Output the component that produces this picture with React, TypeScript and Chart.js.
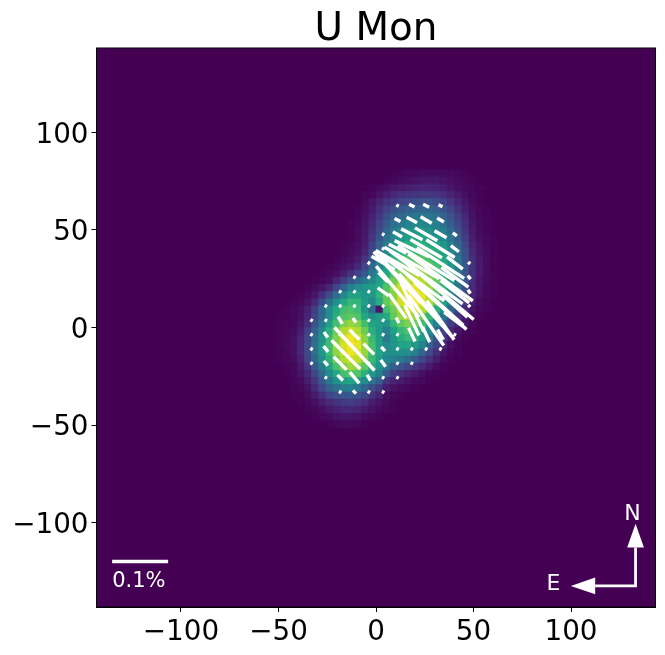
import React, { useEffect, useRef } from "react";
import { Chart, registerables } from "chart.js";

Chart.register(...registerables);

const titleText = "U Mon";
const tickValues = [-100, -50, 0, 50, 100];
const axisLimit = 143.325;
const cellSize = 3.675;
const firstRow = 17;
const viridisStops = ["#440154", "#482475", "#414487", "#355f8d", "#2a788e", "#21918c", "#22a884", "#44bf70", "#7ad151", "#bddf26", "#fde725"];

const imageRowStart = [41,40,38,37,37,36,36,35,35,35,34,34,33,32,31,30,29,28,27,26,25,25,25,25,25,25,25,26,26,27,27,27,28,29,30,32];
const imageRows = [
  [1,1,2,2,3,3,3,3,2,2,1],
  [1,2,3,4,5,6,6,6,5,4,3,2,1],
  [1,2,4,6,7,8,9,10,10,9,8,6,4,3,2,1],
  [1,2,5,8,11,13,14,15,16,16,15,13,10,7,4,2,1],
  [2,5,9,14,17,20,22,24,25,25,23,20,15,10,6,3,1],
  [1,3,7,13,19,24,27,30,32,33,32,30,26,20,14,8,4,2,1],
  [1,4,9,16,24,30,34,37,39,40,39,36,31,25,18,11,5,2,1],
  [1,2,5,11,19,28,36,41,44,46,46,45,42,37,29,21,13,6,3,1],
  [1,3,6,13,22,33,41,47,50,52,52,51,47,42,34,25,15,7,3,1],
  [1,3,7,15,26,37,46,52,56,58,58,56,52,47,39,29,18,8,4,2,1],
  [1,2,4,8,18,31,42,51,57,62,64,63,61,57,52,43,33,21,10,5,2,1],
  [1,3,5,10,22,36,47,56,63,67,69,68,66,62,56,47,37,24,12,6,3,1],
  [1,2,4,7,15,27,41,52,62,68,72,74,73,71,66,60,51,39,26,13,7,3,1],
  [1,2,4,6,11,20,33,45,56,67,74,78,79,78,76,70,63,53,41,27,14,7,3,1],
  [1,2,4,8,14,20,28,40,49,60,72,80,84,85,84,80,73,65,54,42,27,14,7,3,1],
  [1,2,4,10,18,26,33,41,47,56,66,78,86,90,91,89,84,75,66,55,42,27,13,6,3,1],
  [1,3,6,11,21,32,43,49,52,55,61,72,84,92,96,96,92,85,76,65,53,39,25,12,6,2,1],
  [1,3,6,13,23,35,46,56,57,53,52,65,77,82,92,98,100,96,89,74,61,48,35,21,10,5,2,1],
  [1,2,5,11,23,36,49,60,66,65,55,47,62,76,84,93,99,100,96,88,75,55,42,29,17,8,3,1],
  [1,2,4,9,18,33,48,60,69,71,68,52,36,6,70,78,87,94,95,90,80,62,47,34,22,12,5,2,1],
  [1,1,2,4,10,20,34,49,62,72,75,72,60,50,56,61,76,84,88,85,78,66,52,38,26,15,8,3,1],
  [1,2,2,6,13,25,40,55,70,80,84,81,70,58,55,52,66,75,80,77,69,57,43,29,18,10,5,2],
  [1,2,3,8,18,31,47,63,77,88,92,88,77,63,54,44,56,66,72,69,62,48,34,22,12,6,2,1],
  [1,2,4,10,21,35,51,67,81,93,98,94,82,67,55,40,52,62,66,63,54,40,27,16,8,3,1],
  [1,3,4,11,22,37,53,69,84,94,100,96,84,70,57,48,52,58,59,54,45,32,20,10,4,1],
  [1,2,4,11,22,37,53,68,83,93,97,94,84,70,58,50,50,50,49,43,33,23,13,6,2,1],
  [1,2,3,9,20,34,49,64,79,88,92,90,81,67,56,47,43,40,35,28,21,14,8,3,1],
  [1,2,7,15,28,42,57,71,80,85,83,74,62,51,40,30,26,21,16,11,7,3,1],
  [1,2,5,11,21,34,48,60,70,74,72,63,52,43,29,18,14,10,7,4,2,1],
  [1,3,8,16,28,40,50,56,59,56,48,38,30,15,10,7,5,3,2,1],
  [1,2,5,12,22,31,37,42,43,40,32,24,17,8,5,3,2,1],
  [1,1,3,7,13,20,24,27,28,26,21,15,10,4,2,1],
  [1,2,4,8,12,15,17,18,16,13,8,5,3,1],
  [1,2,4,7,9,11,11,10,7,5,3,2,1],
  [1,2,3,5,6,6,5,3,2,1],
  [1,2,3,3,2,1],
];

const vectorRows = [8, 7, 6, 5, 4, 3, 2, 1, 0, -1, -2, -3, -4, -5];
const vectorStarts = [1, 1, 0, 0, -1, -2, -3, -4, -5, -5, -5, -5, -4, -3];
const vectorPol = [
  [.005, .011, .012, .008],
  [.012, .021, .023, .014],
  [.005, .019, .043, .046, .025, .009],
  [.005, .035, .068, .065, .06, .018],
  [.005, .048, .09, .113, .119, .101, .036, .005],
  [.005, .005, .024, .125, .143, .161, .143, .06, .008],
  [.005, .005, .005, .024, .119, .167, .179, .155, .065, .008],
  [.005, .005, .005, .005, .005, .054, .1, .15, .125, .06, .005],
  [.005, .005, .015, .010, .005, .005, .011, .06, .11, .085, .048],
  [.005, .012, .005, .025, .005, .005, .005, .027, .03, .021, .005],
  [.005, .013, .044, .105, .027, .010, .005, .005, .005, .005],
  [.005, .011, .033, .029, .005, .015, .005, .005],
  [.005, .014, .026, .012, .005, .005],
  [.005, .008, .005, .005],
];
const vectorAngle = [
  [27, 27, 27, 27],
  [27, 28, 30, 30],
  [30, 30, 27, 30, 30, 35],
  [30, 27, 25, 30, 32, 38],
  [30, 30, 30, 30, 32, 33, 38, 40],
  [30, 30, 45, 47, 36, 36, 36, 36, 50],
  [30, 30, 30, 35, 50, 48, 42, 40, 38, 55],
  [30, 30, 30, 30, 30, 55, 65, 50, 42, 42, 50],
  [30, 30, 60, 55, 30, 30, 65, 65, 55, 55, 37],
  [30, 55, 30, 45, 30, 30, 30, 65, 65, 60, 30],
  [30, 50, 45, 47, 45, 47, 30, 30, 30, 30],
  [30, 50, 45, 45, 45, 55, 30, 30],
  [30, 45, 50, 60, 30, 30],
  [30, 45, 30, 30],
];

const scaleBarPercent = 0.1;
const scaleBarLength = 28.7;
const scaleBarLabel = "0.1%";
const northLabel = "N";
const eastLabel = "E";

function hexRgb(h: string) {
  return [1, 3, 5].map((k) => parseInt(h.slice(k, k + 2), 16));
}
function viridis(p: number) {
  const t = Math.max(0, Math.min(1, p / 100)) * (viridisStops.length - 1);
  const a = Math.floor(t);
  const b = Math.min(a + 1, viridisStops.length - 1);
  const A = hexRgb(viridisStops[a]);
  const B = hexRgb(viridisStops[b]);
  const c = A.map((v, k) => Math.round(v + (B[k] - v) * (t - a)));
  return `rgb(${c[0]},${c[1]},${c[2]})`;
}

function cellPoints() {
  const pts: { x: number; y: number; v: number }[] = [];
  imageRows.forEach((row, r) => {
    row.forEach((v, c) => {
      if (v <= 0) return;
      pts.push({
        x: (imageRowStart[r] + c - 39 + 0.5) * cellSize,
        y: (39 - firstRow - r - 0.5) * cellSize,
        v,
      });
    });
  });
  return pts;
}

function vectorSegments() {
  const pts: { x: number; y: number }[] = [];
  vectorRows.forEach((j, rowIdx) => {
    vectorPol[rowIdx].forEach((pol, k) => {
      const i = vectorStarts[rowIdx] + k;
      const cx = cellSize + 2 * cellSize * i;
      const cy = cellSize + 2 * cellSize * j;
      const half = ((pol / scaleBarPercent) * scaleBarLength) / 2;
      const a = (vectorAngle[rowIdx][k] * Math.PI) / 180;
      pts.push({ x: cx - half * Math.cos(a), y: cy + half * Math.sin(a) });
      pts.push({ x: cx + half * Math.cos(a), y: cy - half * Math.sin(a) });
      pts.push({ x: NaN, y: NaN });
    });
  });
  return pts;
}

const framePlugin = {
  id: "frameAndMarks",
  beforeDatasetsDraw(chart: any) {
    const { ctx, chartArea: a } = chart;
    ctx.save();
    ctx.fillStyle = viridisStops[0];
    ctx.fillRect(a.left, a.top, a.right - a.left, a.bottom - a.top);
    ctx.restore();
  },
  afterDatasetsDraw(chart: any) {
    const { ctx, chartArea: a, scales } = chart;
    const X = (v: number) => scales.x.getPixelForValue(v);
    const Y = (v: number) => scales.y.getPixelForValue(v);
    ctx.save();
    ctx.strokeStyle = "#ffffff";
    ctx.fillStyle = "#ffffff";

    // scale bar
    ctx.lineWidth = 3.3;
    ctx.beginPath();
    ctx.moveTo(X(-135.3), Y(-120));
    ctx.lineTo(X(-135.3 + scaleBarLength), Y(-120));
    ctx.stroke();
    ctx.font = '21px "DejaVu Sans"';
    ctx.textAlign = "left";
    ctx.textBaseline = "alphabetic";
    ctx.fillText(scaleBarLabel, X(-135.3), Y(-133.3));

    // compass
    ctx.lineWidth = 2.8;
    ctx.beginPath();
    ctx.moveTo(X(133.1), Y(-112.8));
    ctx.lineTo(X(133.1), Y(-132.5));
    ctx.lineTo(X(112.4), Y(-132.5));
    ctx.stroke();
    ctx.beginPath();
    ctx.moveTo(X(133.1), Y(-100.6));
    ctx.lineTo(X(128.8), Y(-112.8));
    ctx.lineTo(X(137.4), Y(-112.8));
    ctx.closePath();
    ctx.fill();
    ctx.beginPath();
    ctx.moveTo(X(99.9), Y(-132.5));
    ctx.lineTo(X(112.4), Y(-128.2));
    ctx.lineTo(X(112.4), Y(-136.8));
    ctx.closePath();
    ctx.fill();
    ctx.font = '22px "DejaVu Sans"';
    ctx.textAlign = "center";
    ctx.fillText(northLabel, X(131.5), Y(-98.5));
    ctx.fillText(eastLabel, X(91), Y(-134.5));
    ctx.restore();

    // frame
    ctx.save();
    ctx.strokeStyle = "#000000";
    ctx.lineWidth = 1;
    ctx.strokeRect(a.left, a.top, a.right - a.left, a.bottom - a.top);
    ctx.fillStyle = "#000000";
    ctx.font = '38.9px "DejaVu Sans"';
    ctx.textAlign = "center";
    ctx.textBaseline = "alphabetic";
    ctx.fillText(titleText, (a.left + a.right) / 2, 40);
    ctx.restore();
  },
};

function axisOptions(kind: "x" | "y") {
  return {
    type: "linear",
    min: -axisLimit,
    max: axisLimit,
    afterBuildTicks(scale: any) {
      scale.ticks = tickValues.map((value) => ({ value }));
    },
    afterFit(scale: any) {
      if (kind === "x") scale.height = 48;
      else scale.width = 96.5;
    },
    ticks: {
      autoSkip: false,
      maxRotation: 0,
      color: "#000000",
      padding: kind === "y" ? 3 : 4,
      labelOffset: kind === "y" ? 3 : 0,
      font: { family: '"DejaVu Sans"', size: 27.8 },
      callback: (v: any) => String(v).replace("-", "\u2212"),
    },
    grid: { drawOnChartArea: false, drawTicks: true, tickLength: 5, tickColor: "#000000", tickWidth: 1 },
    border: { display: true, color: "#000000", width: 1 },
  };
}

export default function App() {
  const ref = useRef<HTMLCanvasElement>(null);
  useEffect(() => {
    const cells = cellPoints();
    const chart = new Chart(ref.current as HTMLCanvasElement, {
      type: "scatter",
      data: {
        datasets: [
          {
            label: "polarization",
            data: vectorSegments() as any,
            showLine: true,
            spanGaps: false,
            borderColor: "#ffffff",
            borderWidth: 3.4,
            borderCapStyle: "butt",
            pointRadius: 0,
            order: 0,
          },
          {
            label: "intensity",
            data: cells as any,
            showLine: false,
            pointStyle: "rect",
            pointRadius: 5.07,
            pointBorderWidth: 0.8,
            pointBackgroundColor: cells.map((c) => viridis(c.v)),
            pointBorderColor: cells.map((c) => viridis(c.v)),
            order: 1,
          },
        ],
      },
      options: {
        responsive: false,
        animation: false,
        devicePixelRatio: 1,
        layout: { padding: { top: 48, right: 9.5, left: 0, bottom: 0 } },
        plugins: { legend: { display: false }, tooltip: { enabled: false }, title: { display: false } },
        scales: { x: axisOptions("x"), y: axisOptions("y") },
      } as any,
      plugins: [framePlugin],
    } as any);
    return () => chart.destroy();
  }, []);
  return (
    <div style={{ position: "absolute", left: 0, top: 0, width: 665, height: 655 }}>
      <canvas ref={ref} width={665} height={655} style={{ display: "block" }} />
    </div>
  );
}
